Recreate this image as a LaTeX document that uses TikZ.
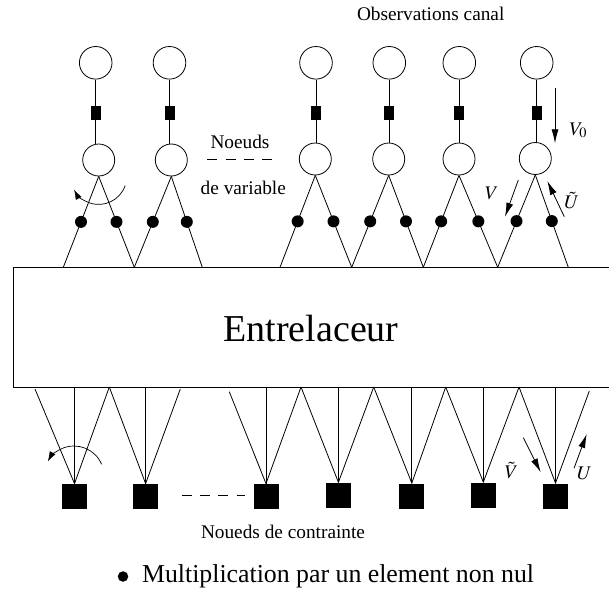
\documentclass[tikz,border=0pt]{standalone}
\usepackage{mathptmx}
\usepackage{fontspec}
\setmainfont{Liberation Serif}
\usetikzlibrary{arrows.meta}
\begin{document}
\begin{tikzpicture}[x=1pt,y=-1pt, line width=0.8pt,
  obs/.style={circle, draw, minimum size=32.6pt, inner sep=0pt},
  var/.style={circle, draw, minimum size=32pt, inner sep=0pt},
  chan/.style={fill, minimum width=10pt, minimum height=14pt, inner sep=0pt},
  chk/.style={fill, minimum size=25pt, inner sep=0pt},
  dot/.style={circle, fill, minimum size=12pt, inner sep=0pt},
  lbl/.style={font=\fontsize{19.3}{22}\selectfont, anchor=base, inner sep=0pt},
  msg/.style={-{Latex[length=14pt,width=7pt]}},
  rot/.style={-{Latex[length=10pt,width=6.5pt]}, line width=0.7pt},
  dsh/.style={dash pattern=on 10pt off 8.3pt}]
\useasboundingbox (0,0) rectangle (609,595);

% variable node columns
\foreach \n/\xo/\xv/\yv in {1/95.7/98.7/160, 2/169.5/171.3/160, 3/316/315.3/159, 4/389.3/388.7/159, 5/459.3/459/159, 6/536.7/535.3/158.5} {
  \node[obs] (o\n) at (\xo,62.8) {};
  \node[chan] (s\n) at (\xo,113) {};
  \node[var] (v\n) at (\xv,\yv) {};
  \draw (o\n.south) -- (s\n.north);
  \draw (s\n.south) -- (s\n.south |- v\n.north);
}

% base points on interleaver top
\foreach \n/\x in {1/63.3, 2/134.3, 3/202.3, 4/280, 5/351.7, 6/423.3, 7/497.7, 8/568.3}
  \coordinate (b\n) at (\x,267.3);

\foreach \v/\l/\r in {1/1/2, 2/2/3, 3/4/5, 4/5/6, 5/6/7, 6/7/8} {
  \draw (v\v.south) -- node[dot, midway]{} (b\l);
  \draw (v\v.south) -- node[dot, midway]{} (b\r);
}

% interleaver box
\coordinate (e1) at (609,267.3);
\coordinate (e2) at (13.3,267.3);
\coordinate (e3) at (13.3,387.3);
\coordinate (e4) at (609,387.3);
\draw (e1) -- (e2) -- (e3) -- (e4);
\node[font=\fontsize{38}{44}\selectfont, anchor=base, inner sep=0pt] (ent) at (311,341) {Entrelaceur};

% check nodes
\foreach \n/\x/\y/\l/\ly/\r/\ry in {1/74.5/496.5/35/389/109.3/387, 2/145.6/496.5/109.3/387/180.3/389, 3/266/496.5/229.3/391.7/301/387, 4/338.4/495.2/301/387/373.7/387, 5/411.8/496/373.7/387/445.7/387, 6/483.3/495/445.7/387/519/387, 7/555.5/496/519/387/589.3/391} {
  \node[chk] (c\n) at (\x,\y) {};
  \coordinate (tl\n) at (\l,\ly);
  \coordinate (tr\n) at (\r,\ry);
  \coordinate (tm\n) at (\x,387.3);
  \draw (tl\n) -- (c\n.north) -- (tr\n);
  \draw (tm\n) -- (c\n.north);
}

% dashes
\coordinate (dt1) at (207.3,159);
\coordinate (dt2) at (272.3,159);
\draw[dsh] (dt1) -- (dt2);
\coordinate (db1) at (181.7,495.7);
\coordinate (db2) at (245,495.7);
\draw[dsh] (db1) -- (db2);

% texts
\node[lbl] (obstxt) at (430.7,20.7) {Observations canal};
\node[lbl] (nv1) at (240,148) {Noeuds};
\node[lbl] (nv2) at (243.3,194) {de variable};
\node[lbl] (nc) at (283,538) {Noueds de contrainte};

% message arrows and labels
\coordinate (a1s) at (555,88.3);   \coordinate (a1e) at (555,143.3);
\coordinate (a2s) at (518.3,180);  \coordinate (a2e) at (505,216.7);
\coordinate (a3s) at (564.3,216.7);\coordinate (a3e) at (547.3,181);
\coordinate (a4s) at (523.3,437.7);\coordinate (a4e) at (540.7,472.3);
\coordinate (a5s) at (574,468.3);  \coordinate (a5e) at (586.7,434);
\draw[msg] (a1s) -- (a1e);
\draw[msg] (a2s) -- (a2e);
\draw[msg] (a3s) -- (a3e);
\draw[msg] (a4s) -- (a4e);
\draw[msg] (a5s) -- (a5e);
\node[lbl] (lv0) at (578.3,135) {$V_0$};
\node[lbl] (lv) at (491.7,199) {$V$};
\node[lbl] (lut) at (571.7,208) {$\tilde{U}$};
\node[lbl] (lvt) at (511.5,478) {$\tilde{V}$};
\node[lbl] (lu) at (584.5,479) {$U$};

% rotation arcs
\draw[rot] (v1.south) ++(19:28) arc[start angle=19, end angle=152, radius=28];
\coordinate (rc) at (74,476);
\draw[rot] (rc) ++(-23:30) arc[start angle=-23, end angle=-151, radius=30];

% legend
\node[circle, fill, minimum size=10.5pt, inner sep=0pt] (bul) at (123,576.5) {};
\node[font=\fontsize{25.8}{30}\selectfont, anchor=base west, inner sep=0pt] (leg) at (141.7,582.3) {Multiplication par un element non nul};
\end{tikzpicture}
\end{document}
